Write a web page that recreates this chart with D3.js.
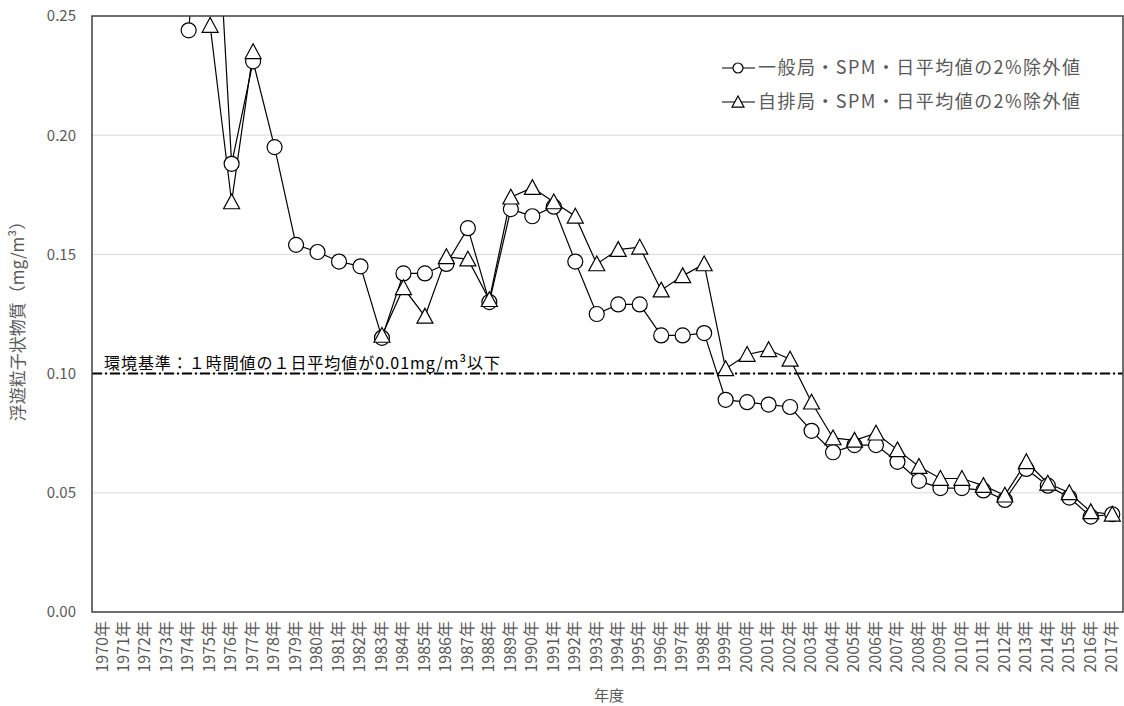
<!DOCTYPE html>
<html><head><meta charset="utf-8">
<script src="https://cdn.jsdelivr.net/npm/d3@7"></script>
<style>
body{margin:0;background:#fff;}
text{font-family:"Noto Sans CJK JP","Noto Sans",sans-serif;}
</style></head>
<body><svg id="c" width="1124" height="706"></svg>
<script>
const years = d3.range(1970, 2018).map(y => y + "年");
const generalSPM = [null,null,null,null,0.244,0.350,0.188,0.231,0.195,0.154,0.151,0.147,0.145,0.115,0.142,0.142,0.146,0.161,0.130,0.169,0.166,0.170,0.147,0.125,0.129,0.129,0.116,0.116,0.117,0.089,0.088,0.087,0.086,0.076,0.067,0.070,0.070,0.063,0.055,0.052,0.052,0.051,0.047,0.060,0.053,0.048,0.040,0.041];
const roadsideSPM = [null,null,null,null,null,0.246,0.172,0.235,null,null,null,null,null,0.116,0.136,0.124,0.149,0.148,0.131,0.174,0.178,0.172,0.166,0.146,0.152,0.153,0.135,0.141,0.146,0.102,0.108,0.110,0.106,0.088,0.073,0.072,0.075,0.068,0.061,0.056,0.056,0.053,0.049,0.063,0.054,0.050,0.042,0.041];
const yTicks = [0, 0.05, 0.10, 0.15, 0.20, 0.25];
const standardValue = 0.10;
const standardLabel = "環境基準：１時間値の１日平均値が0.01mg/m³以下";
const legendLabels = ["一般局・SPM・日平均値の2%除外値", "自排局・SPM・日平均値の2%除外値"];
const yTitle = "浮遊粒子状物質（mg/m³）";
const xTitle = "年度";

const L = 92, R = 1123, T = 16, B = 612;
const svg = d3.select("#c");
const x = d3.scaleBand().domain(years).range([L, R]);
const y = d3.scaleLinear().domain([0, 0.25]).range([B, T]);
const cx = i => x(years[i]) + x.bandwidth() / 2;

// gridlines
svg.append("g").selectAll("line").data(yTicks.filter(t => t > 0 && t < 0.25)).join("line")
  .attr("x1", L).attr("x2", R).attr("y1", d => y(d)).attr("y2", d => y(d))
  .attr("stroke", "#d9d9d9").attr("stroke-width", 1);

// y tick labels
svg.append("g").selectAll("text").data(yTicks).join("text")
  .attr("x", 76).attr("y", d => y(d)).attr("dy", "0.36em").attr("text-anchor", "end")
  .attr("font-size", 15).attr("fill", "#595959").text(d => d3.format(".2f")(d));

// x tick labels
svg.append("g").selectAll("text").data(years).join("text")
  .attr("transform", (d, i) => `translate(${cx(i) - 1},${B + 9}) rotate(-90)`)
  .attr("text-anchor", "end").attr("dy", "0.36em")
  .attr("font-size", 16).attr("fill", "#595959").text(d => d);

// titles
svg.append("text").attr("transform", `translate(18,${(T + B) / 2 + 3}) rotate(-90)`)
  .attr("text-anchor", "middle").attr("dy", "0.36em").attr("font-size", 17).attr("fill", "#595959").text(yTitle);
svg.append("text").attr("x", 609).attr("y", 701).attr("text-anchor", "middle")
  .attr("font-size", 15).attr("fill", "#595959").text(xTitle);

// standard line
svg.append("line").attr("x1", L).attr("x2", R).attr("y1", y(standardValue)).attr("y2", y(standardValue))
  .attr("stroke", "#000").attr("stroke-width", 2).attr("stroke-dasharray", "10,3,2,3");
svg.append("text").attr("x", 104).attr("y", y(standardValue) - 5).attr("font-size", 16)
  .attr("fill", "#000").attr("textLength", 396).attr("lengthAdjust", "spacing").text(standardLabel);

// clip
svg.append("clipPath").attr("id", "clip").append("rect").attr("x", L).attr("y", T).attr("width", R - L).attr("height", B - T);

const line = d3.line().defined(d => d.v !== null).x(d => cx(d.i)).y(d => y(d.v));
const toPts = arr => arr.map((v, i) => ({v, i}));
const genPts = toPts(generalSPM), roadPts = toPts(roadsideSPM);

const triPath = s => `M0,${-s}L${s},${s * 0.85}L${-s},${s * 0.85}Z`;

svg.append("path").attr("clip-path", "url(#clip)").attr("d", line(genPts)).attr("fill", "none").attr("stroke", "#000").attr("stroke-width", 1.2);
svg.append("path").attr("clip-path", "url(#clip)").attr("d", line(roadPts)).attr("fill", "none").attr("stroke", "#000").attr("stroke-width", 1.2);

svg.append("g").selectAll("circle").data(genPts.filter(d => d.v !== null && d.v <= 0.25)).join("circle")
  .attr("cx", d => cx(d.i)).attr("cy", d => y(d.v)).attr("r", 7.5)
  .attr("fill", "#fff").attr("stroke", "#000").attr("stroke-width", 1.2);
svg.append("g").selectAll("path").data(roadPts.filter(d => d.v !== null && d.v <= 0.25)).join("path")
  .attr("transform", d => `translate(${cx(d.i)},${y(d.v)})`).attr("d", triPath(8))
  .attr("fill", "#fff").attr("stroke", "#000").attr("stroke-width", 1.2);

// frame
svg.append("rect").attr("x", L).attr("y", T).attr("width", R - L).attr("height", B - T)
  .attr("fill", "none").attr("stroke", "#404040").attr("stroke-width", 1.5);

// legend
const lg = svg.append("g");
[0, 1].forEach(k => {
  const ly = 68 + k * 34;
  lg.append("line").attr("x1", 722).attr("x2", 755).attr("y1", ly).attr("y2", ly).attr("stroke", "#000").attr("stroke-width", 1.2);
  if (k === 0) lg.append("circle").attr("cx", 738).attr("cy", ly).attr("r", 5).attr("fill", "#fff").attr("stroke", "#000").attr("stroke-width", 1.2);
  else lg.append("path").attr("transform", `translate(738,${ly})`).attr("d", triPath(6)).attr("fill", "#fff").attr("stroke", "#000").attr("stroke-width", 1.2);
  lg.append("text").attr("x", 758).attr("y", ly).attr("dy", "0.36em").attr("font-size", 18)
    .attr("fill", "#595959").attr("textLength", 322).attr("lengthAdjust", "spacing").text(legendLabels[k]);
});
</script></body></html>
